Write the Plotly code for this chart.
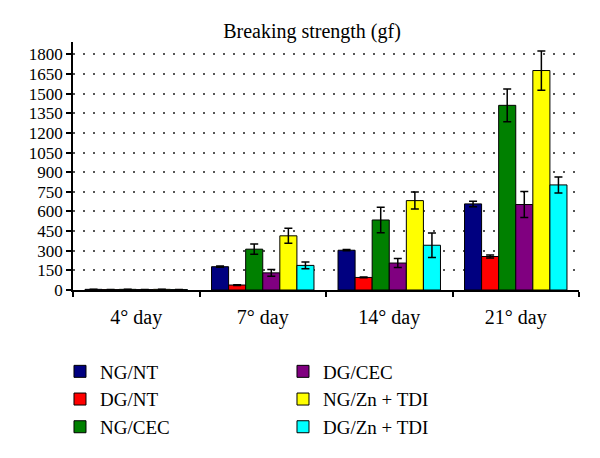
import plotly.graph_objects as go

categories = ["4° day", "7° day", "14° day", "21° day"]
series_names = ["NG/NT", "DG/NT", "NG/CEC", "DG/CEC", "NG/Zn + TDI", "DG/Zn + TDI"]
colors = ["#000080", "#FF0000", "#008000", "#800080", "#FFFF00", "#00FFFF"]

ng_nt = [5, 178, 304, 658]
dg_nt = [3, 38, 96, 256]
ng_cec = [5, 312, 535, 1411]
dg_cec = [3, 131, 206, 653]
ng_zn = [5, 414, 683, 1677]
dg_zn = [3, 188, 342, 803]

ng_nt_err = [1, 5, 5, 21]
dg_nt_err = [1, 3, 3, 12]
ng_cec_err = [1, 39, 97, 125]
dg_cec_err = [1, 25, 34, 99]
ng_zn_err = [1, 57, 65, 150]
dg_zn_err = [1, 25, 94, 61]

values = [ng_nt, dg_nt, ng_cec, dg_cec, ng_zn, dg_zn]
errors = [ng_nt_err, dg_nt_err, ng_cec_err, dg_cec_err, ng_zn_err, dg_zn_err]

y_ticks = list(range(0, 1801, 150))

FONT = "Liberation Serif"
W, H = 592, 450  # page body adds an 8px margin

fig = go.Figure()
for i, (name, vals, errs, col) in enumerate(zip(series_names, values, errors, colors)):
    fig.add_trace(go.Bar(
        name=name, x=categories, y=vals,
        marker=dict(color=col, line=dict(color="black", width=1)),
        error_y=dict(type="data", array=errs, visible=True, color="black",
                     thickness=1.5, width=4),
        legend="legend" if i < 3 else "legend2",
    ))

fig.update_layout(
    width=W, height=H,
    paper_bgcolor="white", plot_bgcolor="white",
    margin=dict(l=65, r=21, t=34, b=164),
    barmode="group", bargap=0.19, bargroupgap=0,
    font=dict(family=FONT, size=20, color="black"),
    title=dict(text="Breaking strength (gf)", x=304 / W, xanchor="center",
               y=1 - 23 / H, yanchor="middle",
               font=dict(family=FONT, size=20, color="black")),
    showlegend=True,
    legend=dict(x=-0.0257, y=-0.252, xanchor="left", yanchor="top",
                orientation="v", font=dict(family=FONT, size=19),
                bgcolor="rgba(0,0,0,0)", tracegroupgap=0),
    legend2=dict(x=0.415, y=-0.252, xanchor="left", yanchor="top",
                 orientation="v", font=dict(family=FONT, size=19),
                 bgcolor="rgba(0,0,0,0)", tracegroupgap=0),
)

fig.update_xaxes(
    showline=True, linecolor="black", linewidth=1.5,
    ticks="outside", tickson="boundaries", ticklen=5, tickcolor="black",
    tickwidth=1.5, showgrid=False, tickfont=dict(family=FONT, size=20),
    ticklabelstandoff=8,
)
fig.update_yaxes(
    range=[0, 1895], tickvals=y_ticks,
    showline=True, linecolor="black", linewidth=1.5,
    ticks="outside", ticklen=5, tickcolor="black", tickwidth=1.5,
    showgrid=True, gridcolor="#555555", gridwidth=1.5, griddash="2px,8px",
    zeroline=False, tickfont=dict(family=FONT, size=17),
)

fig.write_html("out.html")
